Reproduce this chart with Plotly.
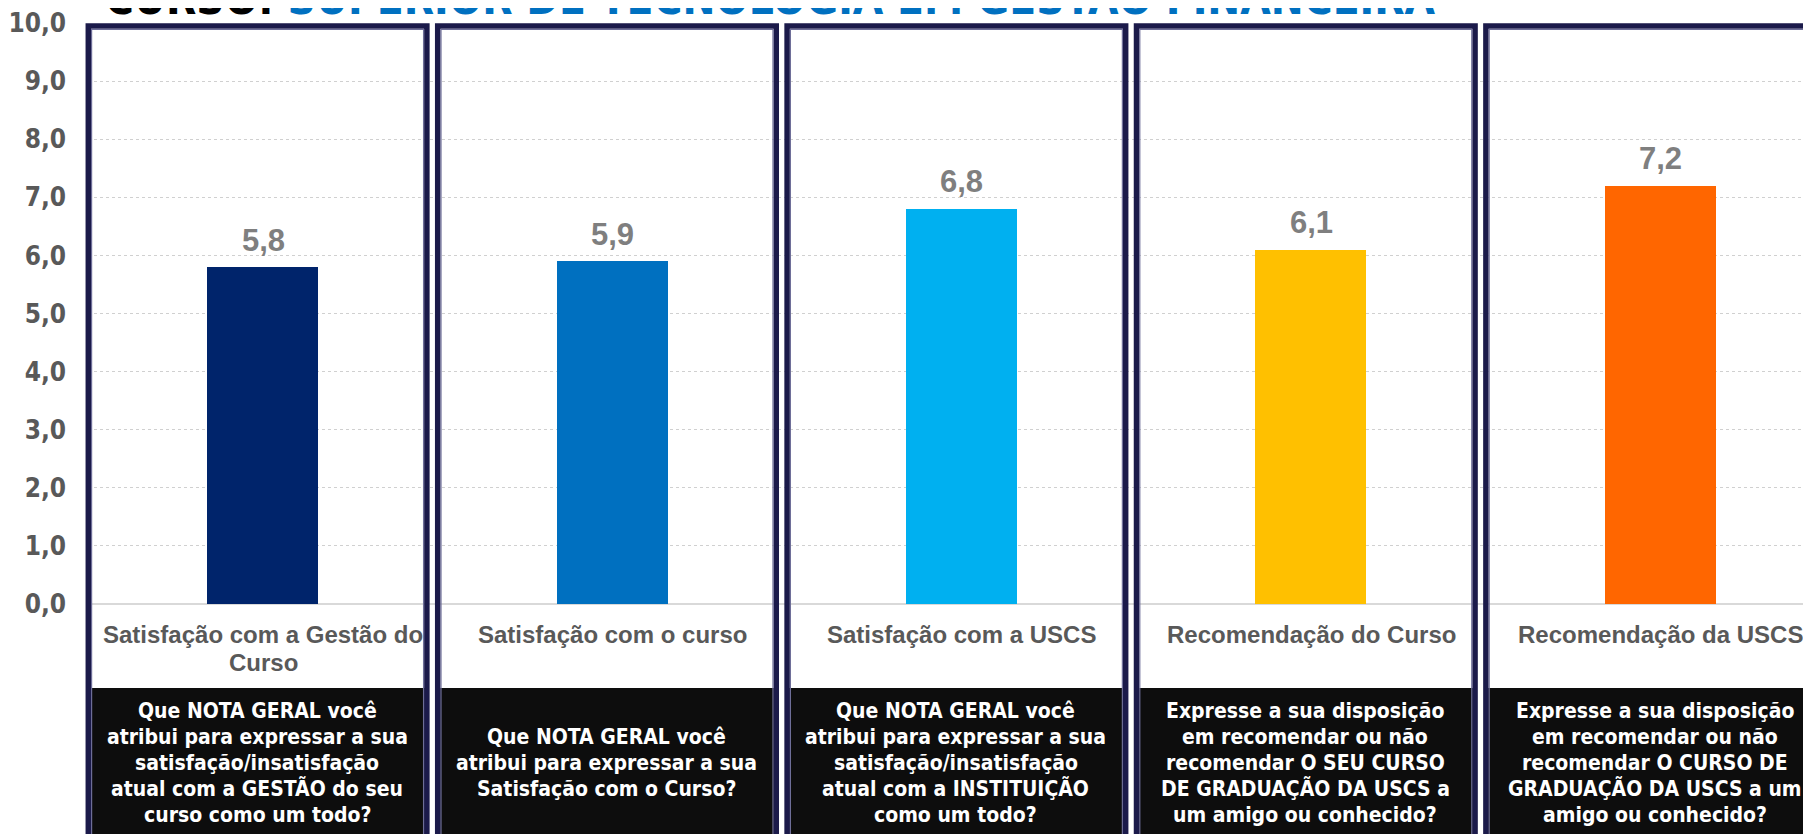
import plotly.graph_objects as go

# ---------------- data ----------------
categories = [
    "Satisfação com a Gestão do Curso",
    "Satisfação com o curso",
    "Satisfação com a USCS",
    "Recomendação do Curso",
    "Recomendação da USCS",
]
values = [5.8, 5.9, 6.8, 6.1, 7.2]
bar_colors = ["#00246B", "#0070C0", "#00B0F0", "#FFC000", "#FF6600"]
category_lines = [
    ["Satisfação com a Gestão do", "Curso"],
    ["Satisfação com o curso"],
    ["Satisfação com a USCS"],
    ["Recomendação do Curso"],
    ["Recomendação da USCS"],
]
question_lines = [
    ["Que NOTA GERAL você", "atribui para expressar a sua", "satisfação/insatisfação",
     "atual com a GESTÃO do seu", "curso como um todo?"],
    ["Que NOTA GERAL você", "atribui para expressar a sua", "Satisfação com o Curso?"],
    ["Que NOTA GERAL você", "atribui para expressar a sua", "satisfação/insatisfação",
     "atual com a INSTITUIÇÃO", "como um todo?"],
    ["Expresse a sua disposição", "em recomendar ou não", "recomendar O SEU CURSO",
     "DE GRADUAÇÃO DA USCS a", "um amigo ou conhecido?"],
    ["Expresse a sua disposição", "em recomendar ou não", "recomendar O CURSO DE",
     "GRADUAÇÃO DA USCS a um", "amigo ou conhecido?"],
]
y_tick_values = [0, 1, 2, 3, 4, 5, 6, 7, 8, 9, 10]
y_tick_labels = ["0,0", "1,0", "2,0", "3,0", "4,0", "5,0", "6,0", "7,0", "8,0", "9,0", "10,0"]
title_black = "CURSO:"
title_blue = "SUPERIOR DE TECNOLOGIA EM GESTÃO FINANCEIRA"

# ---------------- layout constants ----------------
W, H = 1811, 834
OFF = 8  # page body margin: screen px = figure px + OFF


def fy(screen_px):
    """screen y (from top) -> paper fraction"""
    return 1 - (screen_px - OFF) / H


x_dom0_px = 88.3 - OFF
cat_px = 349.4
x_range = [-0.5, -0.5 + (W - x_dom0_px) / cat_px]
y_dom = [fy(604), fy(23)]


def xfrac(v):
    return (v - x_range[0]) / (x_range[1] - x_range[0])


COND = "DejaVu Sans Condensed, DejaVu Sans, sans-serif"
ARIAL = "Liberation Sans, Arial, sans-serif"

fig = go.Figure()
fig.add_trace(go.Bar(
    x=categories, y=values, marker=dict(color=bar_colors, line=dict(width=0)),
    width=0.318, hoverinfo="skip", showlegend=False,
))

shapes = []
annotations = []
for i, cat in enumerate(categories):
    # black question box
    shapes.append(dict(type="rect", xref="x domain", yref="paper",
                       x0=xfrac(i - 0.5), x1=xfrac(i + 0.469),
                       y0=-0.05, y1=fy(688),
                       fillcolor="#0D0D0D", line=dict(width=0), layer="above"))
    # panel border (dark outer)
    shapes.append(dict(type="rect", xref="x domain", yref="paper",
                       x0=xfrac(i - 0.5), x1=xfrac(i + 0.469),
                       y0=-0.05, y1=fy(26),
                       fillcolor="rgba(0,0,0,0)",
                       line=dict(width=5.5, color="#1B1A4A"), layer="above"))
    # inner light line
    ins = 3.3 / cat_px
    shapes.append(dict(type="rect", xref="x domain", yref="paper",
                       x0=xfrac(i - 0.5 + ins), x1=xfrac(i + 0.469 - ins),
                       y0=-0.05, y1=fy(29.3),
                       fillcolor="rgba(0,0,0,0)",
                       line=dict(width=1.2, color="#6E6E98"), layer="above"))

    # value label
    annotations.append(dict(x=cat, y=values[i], xref="x", yref="y",
                            text=f"{values[i]:.1f}".replace(".", ","),
                            showarrow=False, yanchor="middle", yshift=27,
                            font=dict(family=ARIAL, size=31, color="#7F7F7F", weight="bold")))
    # category label
    for j, line in enumerate(category_lines[i]):
        annotations.append(dict(x=cat, y=fy(634 + 28 * j), xref="x", yref="paper",
                                text=line, showarrow=False, yanchor="middle",
                                font=dict(family=ARIAL, size=24, color="#595959", weight="bold")))
    # question text
    n = len(question_lines[i])
    for j, line in enumerate(question_lines[i]):
        yc = 763 + (j - (n - 1) / 2) * 25.8
        annotations.append(dict(x=cat, y=fy(yc), xref="x", yref="paper",
                                text=line, showarrow=False, yanchor="middle", xshift=-6,
                                font=dict(family=COND, size=21, color="#FFFFFF", weight="bold")))

# title (cut off at the top edge, as in the original slide)
annotations.append(dict(
    x=(104 - OFF) / W, y=fy(25), xref="paper", yref="paper", xanchor="left", yanchor="bottom",
    borderpad=0, showarrow=False,
    text=f"<span style='color:#000000'>{title_black}</span> "
         f"<span style='color:#0070C0'>{title_blue}</span>",
    font=dict(family=COND, size=43.8, weight="bold"),
))

fig.update_layout(
    width=W, height=H,
    margin=dict(l=0, r=0, t=0, b=0, autoexpand=False),
    paper_bgcolor="white", plot_bgcolor="white",
    shapes=shapes, annotations=annotations,
    bargap=0,
    xaxis=dict(domain=[x_dom0_px / W, 1], range=x_range, type="category",
               showticklabels=False, showgrid=False, zeroline=False, showline=False,
               fixedrange=True, automargin=False),
    yaxis=dict(domain=y_dom, range=[0, 10], tickvals=y_tick_values, ticktext=y_tick_labels,
               showgrid=True, gridcolor="#D0D0D0", gridwidth=1, griddash="dot",
               zeroline=True, zerolinecolor="#D9D9D9", zerolinewidth=1.5,
               showline=False, ticks="outside", ticklen=16, tickcolor="rgba(0,0,0,0)",
               tickfont=dict(family=COND, size=26, color="#595959", weight="bold"),
               fixedrange=True, automargin=False),
)

fig.write_html("out.html")
